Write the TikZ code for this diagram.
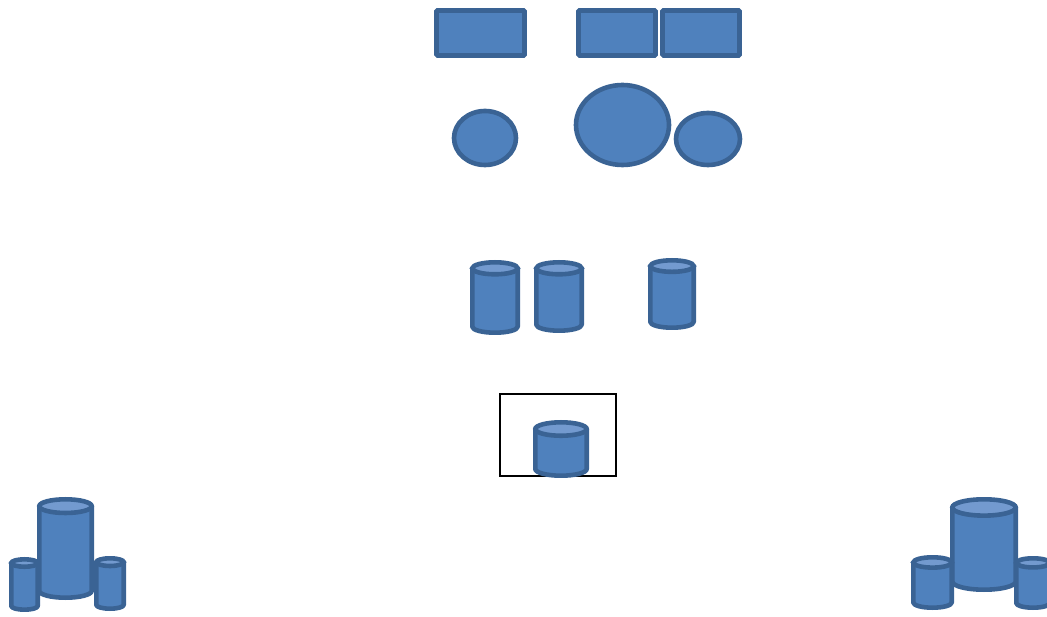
\documentclass[tikz,border=0pt]{standalone}
\usepackage{tikz}
\usetikzlibrary{shapes.geometric}
\definecolor{steel}{HTML}{4F81BD}
\definecolor{navy}{HTML}{3A6394}
\definecolor{sky}{HTML}{739ACF}
\newcommand{\drum}[5]{%
  \pgfmathsetmacro{\dxa}{#2+2.3}
  \pgfmathsetmacro{\dxb}{#4-2.3}
  \pgfmathsetmacro{\dr}{(\dxb-\dxa)/2}
  \pgfmathsetmacro{\de}{0.12*(#4-#2)}
  \pgfmathsetmacro{\dw}{2*\dr}
  \pgfmathsetmacro{\dh}{2*\de}
  \pgfmathsetmacro{\dcx}{(\dxa+\dxb)/2}
  \pgfmathsetmacro{\dyt}{#3+2.3+\de}
  \pgfmathsetmacro{\dyb}{#5-2.3-\de}
  \filldraw[drum] (\dxa,\dyt) -- (\dxa,\dyb)
    arc[start angle=180,end angle=0,x radius=\dr,y radius=\de] -- (\dxb,\dyt) -- cycle;
  \node[drumtop,minimum width=\dw pt,minimum height=\dh pt] (#1) at (\dcx,\dyt) {};
}

\begin{document}
\begin{tikzpicture}[
  x=1pt,y=-1pt,
  slab/.style={draw=navy,fill=steel,line width=4.6pt,rounded corners=1pt,inner sep=0pt},
  disc/.style={ellipse,draw=navy,fill=steel,line width=4.6pt,inner sep=0pt},
  drum/.style={draw=navy,fill=steel,line width=4.6pt,line join=round},
  drumtop/.style={ellipse,draw=navy,fill=sky,line width=4.6pt,inner sep=0pt},
  frame/.style={draw=black,line width=1.3pt,inner sep=0pt}
]
\useasboundingbox (0,0) rectangle (1047,617);
\node[slab,minimum width=88pt,minimum height=45pt] (slabA) at (480.5,33) {};
\node[slab,minimum width=77pt,minimum height=45pt] (slabB) at (617,33) {};
\node[slab,minimum width=77pt,minimum height=45pt] (slabC) at (701,33) {};
\node[disc,minimum width=62pt,minimum height=54pt] (discA) at (485,138) {};
\node[disc,minimum width=93pt,minimum height=80pt] (discB) at (622.5,125) {};
\node[disc,minimum width=64pt,minimum height=52pt] (discC) at (708,139) {};
\drum{drumA}{470}{260}{520}{335}
\drum{drumB}{534}{260}{584}{333}
\drum{drumC}{648}{258}{696}{330}
\node[frame,minimum width=116pt,minimum height=82pt] (box) at (558,435) {};
\drum{drumD}{533}{420}{589}{478}
\drum{towerL}{37}{497}{94}{600}
\drum{leftA}{9}{557}{40}{612}
\drum{leftB}{94}{556}{126}{611}
\drum{towerR}{950}{497}{1018}{592}
\drum{rightA}{911}{555}{954}{610}
\drum{rightB}{1014}{556}{1052}{610}
\end{tikzpicture}
\end{document}
